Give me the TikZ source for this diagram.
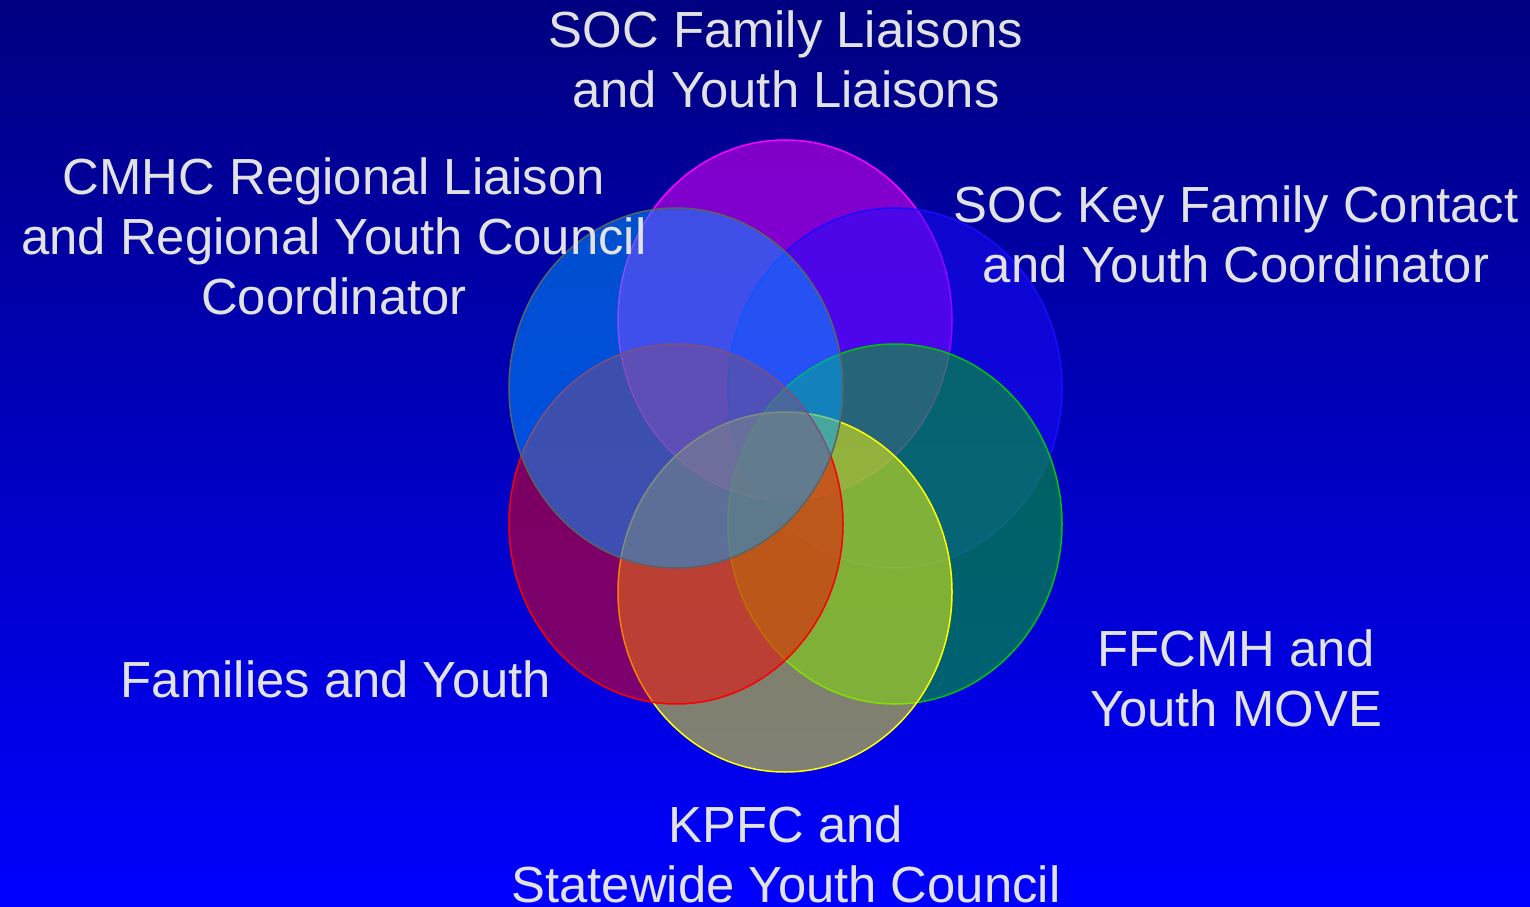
\documentclass[tikz,border=0pt]{standalone}
\usepackage{fontspec}
\setmainfont{Liberation Sans}
\usepackage{tikz}
\usetikzlibrary{shapes.geometric}
\definecolor{bgtop}{RGB}{0,0,128}
\definecolor{bgbottom}{RGB}{0,0,255}
\definecolor{labeltext}{RGB}{226,226,226}
\definecolor{socmagenta}{RGB}{255,0,255}
\definecolor{keyblue}{RGB}{28,12,255}
\definecolor{ffgreen}{RGB}{0,194,8}
\definecolor{kpyellow}{RGB}{255,255,0}
\definecolor{famred}{RGB}{248,0,0}
\definecolor{cmsky}{RGB}{0,158,255}
\definecolor{cmgrey}{RGB}{92,98,98}

\begin{document}
\begin{tikzpicture}[x=0.5pt, y=0.5pt,
	every node/.style={inner sep=0pt},
	ring/.style={ellipse, minimum width=167pt, minimum height=180pt,
		line width=0.75pt, fill opacity=0.5},
	caption/.style={anchor=base, align=center, text=labeltext,
		font=\fontsize{25.4pt}{30pt}\selectfont}]
\useasboundingbox (0,0) rectangle (1530,906);
\shade[top color=bgtop, bottom color=bgbottom] (0,0) rectangle (1530,906);
% the six rings, drawn clockwise from the top
\node[ring, draw=socmagenta, fill=socmagenta] (soc) at (785,586) {};
\node[ring, draw=keyblue, fill=keyblue] (key) at (895,518) {};
\node[ring, draw=ffgreen, fill=ffgreen] (ffcmh) at (895,382) {};
\node[ring, draw=kpyellow, fill=kpyellow] (kpfc) at (785,314) {};
\node[ring, draw=famred, fill=famred] (fam) at (676,382) {};
\node[ring, draw=cmgrey, fill=cmsky] (cmhc) at (676,518) {};
% captions (base is the last line)
\node[caption] (soc label) at (786,798) {SOC Family Liaisons\\and Youth Liaisons};
\node[caption] (key label) at (1236,623) {SOC Key Family Contact\\and Youth Coordinator};
\node[caption] (ffcmh label) at (1236,180) {FFCMH and\\Youth MOVE};
\node[caption] (kpfc label) at (786,4) {KPFC and\\Statewide Youth Council};
\node[caption] (fam label) at (336,209) {Families and Youth};
\node[caption] (cmhc label) at (334,591) {CMHC Regional Liaison\\and Regional Youth Council\\Coordinator};
\end{tikzpicture}
\end{document}
